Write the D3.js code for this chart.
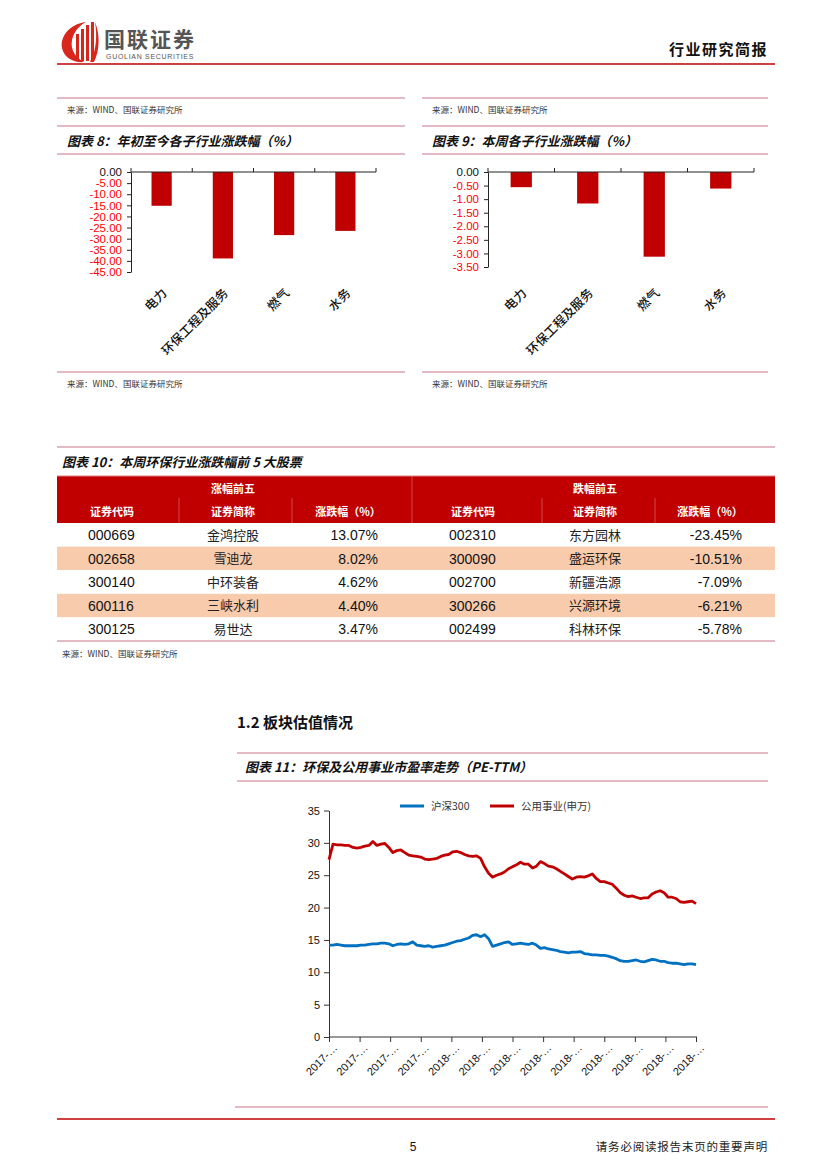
<!DOCTYPE html>
<html><head><meta charset="utf-8">
<script src="https://cdn.jsdelivr.net/npm/d3@7"></script>
<style>
html,body{margin:0;padding:0;background:#fff;}
svg{display:block;}
</style></head>
<body>
<svg id="page" width="827" height="1169"></svg>
<script>
// ---------- DATA ----------
const subIndustries = ["电力", "环保工程及服务", "燃气", "水务"];
const ytdChange = [-15.2, -38.9, -28.4, -26.5];
const weekChange = [-0.56, -1.16, -3.12, -0.61];
const ytdTicks = [0, -5, -10, -15, -20, -25, -30, -35, -40, -45];
const weekTicks = [0, -0.5, -1, -1.5, -2, -2.5, -3, -3.5];

const tableGroups = ["涨幅前五", "跌幅前五"];
const tableHeads = ["证券代码", "证券简称", "涨跌幅（%）"];
const gainCodes = ["000669", "002658", "300140", "600116", "300125"];
const gainNames = ["金鸿控股", "雪迪龙", "中环装备", "三峡水利", "易世达"];
const gainPct = [13.07, 8.02, 4.62, 4.40, 3.47];
const lossCodes = ["002310", "300090", "002700", "300266", "002499"];
const lossNames = ["东方园林", "盛运环保", "新疆浩源", "兴源环境", "科林环保"];
const lossPct = [-23.45, -10.51, -7.09, -6.21, -5.78];

const seriesNames = ["沪深300", "公用事业(申万)"];
const hs300 = [14.2,14.2,14.3,14.2,14.1,14.1,14.1,14.1,14.2,14.2,14.3,14.4,14.4,14.5,14.5,14.4,14.1,14.3,14.4,14.3,
  14.4,14.7,14.2,14.1,14.0,14.1,13.9,14.0,14.1,14.2,14.4,14.6,14.8,14.9,15.1,15.3,15.7,15.8,15.5,15.8,
  15.2,14.0,14.2,14.4,14.6,14.7,14.3,14.4,14.5,14.4,14.3,14.5,14.2,13.7,13.8,13.6,13.5,13.4,13.2,13.1,
  13.0,13.1,13.1,13.2,12.9,12.8,12.7,12.7,12.6,12.6,12.5,12.3,12.1,11.8,11.7,11.7,11.8,11.9,11.7,11.6,
  11.8,12.0,11.9,11.7,11.7,11.5,11.4,11.4,11.3,11.2,11.3,11.3,11.2];
const utilities = [27.4,29.8,29.7,29.7,29.6,29.6,29.3,29.2,29.3,29.5,29.6,30.2,29.6,29.8,29.9,29.3,28.5,28.8,28.9,28.5,
  28.1,28.0,27.9,27.8,27.5,27.4,27.5,27.6,27.9,28.1,28.2,28.6,28.7,28.5,28.2,28.0,27.9,28.0,27.6,26.3,
  25.3,24.7,25.0,25.2,25.5,26.0,26.3,26.6,27.0,26.7,26.7,26.1,26.4,27.1,26.8,26.4,26.3,26.0,25.6,25.2,
  24.8,24.4,24.7,24.8,24.7,24.9,25.2,24.5,24.0,24.0,23.8,23.6,23.0,22.3,21.9,21.7,21.8,21.6,21.4,21.5,
  21.5,22.1,22.4,22.6,22.3,21.6,21.6,21.4,20.9,20.8,20.9,21.0,20.6];
const peTicks = [0, 5, 10, 15, 20, 25, 30, 35];
const dateTickLabels = ["2017-…","2017-…","2017-…","2017-…","2018-…","2018-…","2018-…","2018-…","2018-…",
  "2018-…","2018-…","2018-…","2018-…"];
const dateTickIndex = [0, 7.67, 15.33, 23, 30.67, 38.33, 46, 53.67, 61.33, 69, 76.67, 84.33, 92];

// ---------- STYLE ----------
const CJK = "'Noto Sans CJK SC','Noto Sans',sans-serif";
const LAT = "'Liberation Sans',Arial,sans-serif";
const RED = "#c00000";
const RULE = "#c9788a";
const svg = d3.select("#page");
const loc = d3.formatLocale({decimal: ".", thousands: ",", grouping: [3], currency: ["", ""], minus: "-"});
const f2 = loc.format(".2f");

function hline(x1, x2, y, color, w) {
  svg.append("line").attr("x1", x1).attr("x2", x2).attr("y1", y).attr("y2", y)
    .attr("stroke", color || RULE).attr("stroke-width", w || 1.2);
}
function text(x, y, s, opt) {
  opt = opt || {};
  return svg.append("text").attr("x", x).attr("y", y).text(s)
    .attr("font-family", opt.family || CJK).attr("font-size", opt.size || 10)
    .attr("font-weight", opt.weight || "normal").attr("font-style", opt.style || "normal")
    .attr("fill", opt.fill || "#222").attr("text-anchor", opt.anchor || "start");
}

// ---------- HEADER ----------
const logo = svg.append("g");
logo.append("path").attr("d", "M86,22 C70,24 60,36 62,48 C64,58 74,63 84,62 C76,58 70,50 72,40 C74,31 80,25 86,22 Z").attr("fill", "#d9261c");
[[76,34,3,27],[81,29,3,32],[86,25,3,36],[91,22,3,38]].forEach(b => {
  logo.append("rect").attr("x", b[0]).attr("y", b[1]).attr("width", b[2]).attr("height", b[3]).attr("fill", "#d9261c");
});
logo.append("path").attr("d", "M95,22 C97,34 97,50 90,62 L94,62 C100,50 100,34 95,22 Z").attr("fill", "#d9261c");
text(104, 47, "国联证券", {size: 21, weight: "bold", fill: "#555"}).attr("letter-spacing", 2);
text(106, 59, "GUOLIAN SECURITIES", {family: LAT, size: 7, fill: "#555"}).attr("letter-spacing", 0.7);
text(768, 55, "行业研究简报", {size: 15, weight: "bold", fill: "#111", anchor: "end"}).attr("letter-spacing", 1.5);
hline(57, 775, 64, RED, 1.5);

// ---------- BAR CHARTS ----------
function barChart(cfg) {
  hline(cfg.x0, cfg.x1, 98);
  text(cfg.x0 + 10, 113, "来源：WIND、国联证券研究所", {size: 8.5, fill: "#333"});
  hline(cfg.x0, cfg.x1, 126);
  text(cfg.x0 + 10, 146, cfg.title, {size: 13, weight: "bold", style: "italic", fill: "#111"});
  hline(cfg.x0, cfg.x1, 154);
  hline(cfg.x0, cfg.x1, 372);
  text(cfg.x0 + 10, 387, "来源：WIND、国联证券研究所", {size: 8.5, fill: "#333"});

  const y = d3.scaleLinear().domain(cfg.domain).range([cfg.yBottom, 172]);
  const x = d3.scaleBand().domain(subIndustries).range([cfg.axisX, cfg.axisEnd])
    .paddingInner(cfg.pad).paddingOuter(cfg.pad / 2);
  const g = svg.append("g");
  g.selectAll("rect.bar").data(cfg.values).enter().append("rect")
    .attr("x", (d, i) => x(subIndustries[i])).attr("width", x.bandwidth())
    .attr("y", y(0)).attr("height", d => y(d) - y(0)).attr("fill", RED);

  const ya = g.append("g").attr("transform", `translate(${cfg.axisX},0)`)
    .call(d3.axisLeft(y).tickValues(cfg.ticks).tickFormat(f2).tickSize(4).tickSizeOuter(0));
  ya.select(".domain").attr("stroke", "#222");
  ya.selectAll(".tick line").attr("stroke", "#222");
  ya.selectAll(".tick text").attr("font-family", LAT).attr("font-size", 11.5)
    .attr("fill", d => d < 0 ? "#ff0000" : "#111").attr("x", -9);

  const step = x.step();
  const bounds = d3.range(subIndustries.length + 1).map(i => cfg.axisX + i * step);
  g.append("line").attr("x1", cfg.axisX).attr("x2", cfg.axisEnd).attr("y1", y(0)).attr("y2", y(0)).attr("stroke", "#222");
  g.selectAll("line.tk").data(bounds).enter().append("line")
    .attr("x1", d => d).attr("x2", d => d).attr("y1", y(0)).attr("y2", y(0) - 4).attr("stroke", "#222");

  g.selectAll("text.cat").data(subIndustries).enter().append("text")
    .attr("transform", d => `translate(${x(d) + x.bandwidth() / 2 + 6},${cfg.labelY}) rotate(-45)`)
    .attr("text-anchor", "end").attr("font-family", CJK).attr("font-size", 12.5).attr("font-weight", 500)
    .attr("fill", "#111").text(d => d);
}
barChart({x0: 57, x1: 405, title: "图表 8：年初至今各子行业涨跌幅（%）", values: ytdChange,
  domain: [-45, 0], ticks: ytdTicks, yBottom: 272, axisX: 131, axisEnd: 376, pad: 0.67, labelY: 294});
barChart({x0: 422, x1: 768, title: "图表 9：本周各子行业涨跌幅（%）", values: weekChange,
  domain: [-3.5, 0], ticks: weekTicks, yBottom: 267, axisX: 488, axisEnd: 754, pad: 0.68, labelY: 294});

// ---------- TABLE ----------
hline(57, 775, 447);
text(62, 467, "图表 10：本周环保行业涨跌幅前 5 大股票", {size: 13, weight: "bold", style: "italic", fill: "#111"});
const tTop = 476, hdrH = 47, rowH = 23.6;
svg.append("rect").attr("x", 57).attr("y", tTop).attr("width", 718).attr("height", hdrH).attr("fill", RED);
const rowsY = d3.range(5).map(i => tTop + hdrH + i * rowH);
svg.selectAll("rect.row").data(rowsY).enter().append("rect")
  .attr("x", 57).attr("y", d => d).attr("width", 718).attr("height", rowH)
  .attr("fill", (d, i) => i % 2 ? "#f8cbad" : "#fff");
[179, 292, 412, 542, 655].forEach(xx => {
  svg.append("line").attr("x1", xx).attr("x2", xx).attr("y1", tTop + 22).attr("y2", tTop + hdrH)
    .attr("stroke", "#d65a5a").attr("stroke-width", 0.8);
});
svg.append("line").attr("x1", 412).attr("x2", 412).attr("y1", tTop).attr("y2", tTop + 22).attr("stroke", "#d65a5a").attr("stroke-width", 0.8);
hline(57, 775, tTop + hdrH + 5 * rowH, "#c9788a", 1.2);
hline(57, 775, tTop, "#e08080", 1);

const groups = [
  {cx: [112, 233, 348], gx: 233, codeX: 88, pctX: 378, codes: gainCodes, names: gainNames, pct: gainPct, title: tableGroups[0]},
  {cx: [473, 595, 710], gx: 595, codeX: 449, pctX: 742, codes: lossCodes, names: lossNames, pct: lossPct, title: tableGroups[1]}
];
groups.forEach(gr => {
  text(gr.gx, 493, gr.title, {size: 11, weight: "bold", fill: "#fff", anchor: "middle"});
  tableHeads.forEach((h, i) => text(gr.cx[i], 516, h, {size: 11, weight: "bold", fill: "#fff", anchor: "middle"}));
  gr.codes.forEach((c, i) => {
    const by = rowsY[i] + 17;
    text(gr.codeX, by, c, {family: LAT, size: 14, fill: "#111"});
    text(gr.cx[1], by - 0.5, gr.names[i], {size: 13, fill: "#222", anchor: "middle"});
    text(gr.pctX, by, f2(gr.pct[i]) + "%", {family: LAT, size: 14, fill: "#111", anchor: "end"});
  });
});
text(62, 657, "来源：WIND、国联证券研究所", {size: 8.5, fill: "#333"});

// ---------- SECTION ----------
text(237, 728, "1.2 板块估值情况", {size: 15, weight: "bold", fill: "#111"});

// ---------- LINE CHART ----------
hline(237, 768, 753);
text(245, 772, "图表 11：环保及公用事业市盈率走势（PE-TTM）", {size: 13, weight: "bold", style: "italic", fill: "#111"});
hline(237, 768, 781);

const n = utilities.length;
const xs = d3.scaleLinear().domain([0, n - 1]).range([329, 696]);
const ys = d3.scaleLinear().domain([0, 35]).range([1037, 810.5]);
const lg = svg.append("g");
const yAx = lg.append("g").attr("transform", "translate(329,0)")
  .call(d3.axisLeft(ys).tickValues(peTicks).tickSize(5).tickSizeOuter(0));
yAx.selectAll("text").attr("font-family", LAT).attr("font-size", 11).attr("fill", "#111").attr("x", -9);
yAx.selectAll("line,.domain").attr("stroke", "#333");
const xAx = lg.append("g").attr("transform", "translate(0,1037)")
  .call(d3.axisBottom(xs).tickValues(dateTickIndex).tickSize(5).tickSizeOuter(0).tickFormat((d, i) => dateTickLabels[i]));
xAx.select(".domain").attr("d", `M329,0H${xs(n - 1) + 1}`).attr("stroke", "#333");
xAx.selectAll("line").attr("stroke", "#333");
xAx.selectAll("text").attr("font-family", LAT).attr("font-size", 11).attr("fill", "#111")
  .attr("text-anchor", "end").attr("transform", "translate(3,6) rotate(-45)").attr("dy", "0.35em").attr("y", 4);

const line = d3.line().x((d, i) => xs(i)).y(d => ys(d));
lg.append("path").datum(hs300).attr("d", line).attr("fill", "none").attr("stroke", "#0070c0").attr("stroke-width", 2.8).attr("stroke-linejoin", "round");
lg.append("path").datum(utilities).attr("d", line).attr("fill", "none").attr("stroke", RED).attr("stroke-width", 2.8).attr("stroke-linejoin", "round");

[[400, "#0070c0", seriesNames[0]], [490, RED, seriesNames[1]]].forEach(l => {
  lg.append("line").attr("x1", l[0]).attr("x2", l[0] + 24).attr("y1", 806).attr("y2", 806).attr("stroke", l[1]).attr("stroke-width", 3);
  text(l[0] + 31, 810, l[2], {size: 10.5, fill: "#333"});
});

// ---------- FOOTER ----------
hline(235, 768, 1107);
hline(57, 775, 1119, RED, 1.5);
text(413, 1151, "5", {family: LAT, size: 12, fill: "#111", anchor: "middle"});
text(768, 1151, "请务必阅读报告末页的重要声明", {size: 11.5, fill: "#222", anchor: "end"}).attr("letter-spacing", 0.8);
</script>
</body></html>
